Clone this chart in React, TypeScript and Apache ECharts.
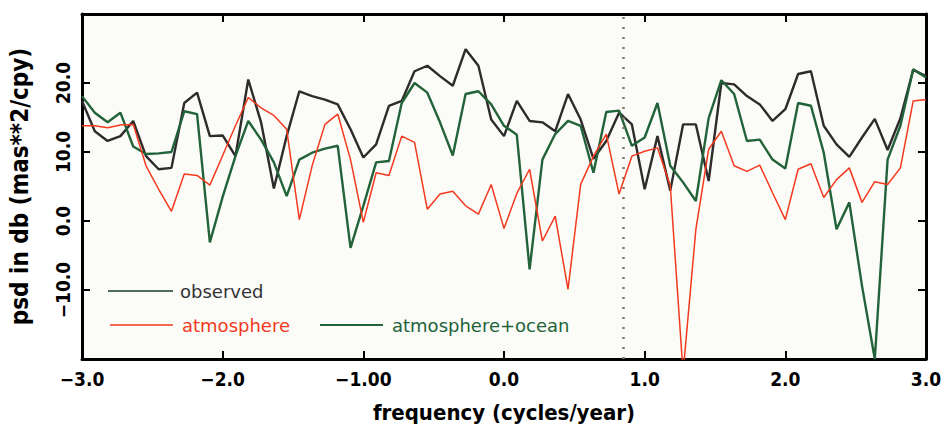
import React, { useEffect, useRef } from "react";
import * as echarts from "echarts";

// frequency grid (cycles/year), step 1/11
const freqs = [
  -3.0, -2.909, -2.818, -2.727, -2.636, -2.545, -2.455, -2.364, -2.273, -2.182, -2.091,
  -2.0, -1.909, -1.818, -1.727, -1.636, -1.545, -1.455, -1.364, -1.273, -1.182, -1.091,
  -1.0, -0.909, -0.818, -0.727, -0.636, -0.545, -0.455, -0.364, -0.273, -0.182, -0.091,
  0.0, 0.091, 0.182, 0.273, 0.364, 0.455, 0.545, 0.636, 0.727, 0.818, 0.909,
  1.0, 1.091, 1.182, 1.273, 1.364, 1.455, 1.545, 1.636, 1.727, 1.818, 1.909,
  2.0, 2.091, 2.182, 2.273, 2.364, 2.455, 2.545, 2.636, 2.727, 2.818, 2.909, 3.0,
];

const observed = [
  17.4, 13.0, 11.6, 12.3, 14.5, 9.4, 7.5, 7.7, 17.1, 18.6, 12.3,
  12.4, 9.4, 20.5, 14.3, 4.7, 12.3, 18.8, 18.1, 17.6, 16.9, 13.3,
  9.2, 11.1, 16.7, 17.4, 21.7, 22.5, 21.0, 19.6, 24.9, 22.5, 14.7,
  12.3, 17.4, 14.5, 14.3, 13.0, 18.4, 14.7, 9.0, 11.6, 15.7, 14.0,
  4.6, 12.3, 4.4, 14.0, 14.0, 5.8, 20.0, 19.8, 18.1, 16.9, 14.5,
  16.2, 21.3, 21.7, 13.8, 11.1, 9.3, 12.1, 14.8, 10.3, 14.9, 21.9, 21.0,
];

const atmosphere = [
  13.8, 13.8, 13.5, 13.9, 14.0, 8.0, 4.6, 1.4, 6.8, 6.6, 5.2,
  9.5, 13.8, 17.9, 16.4, 15.3, 13.3, 0.2, 8.0, 14.0, 15.5, 8.9,
  -0.2, 7.0, 6.6, 12.3, 11.4, 1.7, 3.9, 4.3, 2.2, 1.0, 5.3,
  -1.1, 4.0, 7.5, -2.9, 0.7, -9.9, 5.3, 9.4, 12.6, 3.9, 9.4,
  10.1, 10.6, 5.1, -22.0, -1.2, 10.4, 13.0, 8.0, 7.2, 8.1, 4.1,
  0.2, 7.5, 8.3, 3.4, 6.0, 7.7, 2.7, 5.7, 5.3, 7.7, 17.4, 17.6,
];

const atmosphereOcean = [
  18.1, 15.7, 14.3, 15.7, 10.8, 9.7, 9.8, 10.0, 15.9, 15.5, -3.1,
  3.5, 9.4, 14.5, 11.8, 8.5, 3.6, 8.9, 9.9, 10.5, 10.9, -3.9,
  2.2, 8.5, 8.7, 17.1, 20.0, 18.6, 14.3, 9.5, 18.4, 18.8, 16.9,
  13.8, 12.5, -7.0, 8.9, 12.6, 14.5, 13.8, 7.0, 15.8, 16.0, 10.9,
  12.1, 17.1, 8.0, 5.6, 2.9, 14.9, 20.4, 18.4, 11.6, 11.8, 8.9,
  7.6, 17.1, 16.7, 9.9, -1.2, 2.7, -9.4, -20.0, 8.9, 13.8, 22.0, 20.8,
];

const xTickValues = [-3, -2, -1, 0, 1, 2, 3];
const xTickLabels = ["\u22123.0", "\u22122.0", "\u22121.00", "0.0", "1.0", "2.0", "3.0"];
const yTickValues = [-10, 0, 10, 20];
const yTickLabels = ["\u221210.0", "0.0", "10.0", "20.0"];
const markerFreq = 0.85;

const seriesNames = ["observed", "atmosphere", "atmosphere+ocean"];

const AXIS_FONT = '"Liberation Sans Narrow", "DejaVu Sans Condensed", "Liberation Sans", sans-serif';
const LEGEND_FONT = '"DejaVu Sans", sans-serif';

const pair = (vals: number[]) => freqs.map((f, i) => [f, vals[i]]);

export default function App() {
  const ref = useRef<HTMLDivElement>(null);
  useEffect(() => {
    if (!ref.current) return;
    const chart = echarts.init(ref.current, null, { renderer: "svg" });
    const frameLine = { show: true, onZero: false, lineStyle: { color: "#000", width: 3 } };
    const tick = { show: true, inside: true, length: 8, lineStyle: { color: "#000", width: 2 } };
    const xLabel = (v: number) => {
      const k = xTickValues.indexOf(Math.round(v * 1000) / 1000);
      return k >= 0 ? xTickLabels[k] : "";
    };
    const yLabel = (v: number) => {
      const k = yTickValues.indexOf(Math.round(v * 1000) / 1000);
      return k >= 0 ? yTickLabels[k] : "";
    };
    chart.setOption({
      animation: false,
      backgroundColor: "#ffffff",
      grid: {
        left: 81,
        right: 20,
        top: 14,
        bottom: 68,
        show: true,
        backgroundColor: "#fbfbf8",
        borderWidth: 0,
      },
      xAxis: [
        {
          type: "value",
          min: -3,
          max: 3,
          interval: 1,
          position: "bottom",
          axisLine: frameLine,
          axisTick: tick,
          splitLine: { show: false },
          axisLabel: {
            formatter: xLabel,
            color: "#000",
            fontWeight: "bold",
            fontSize: 19,
            fontFamily: AXIS_FONT,
            margin: 10,
          },
          name: "frequency (cycles/year)",
          nameLocation: "middle",
          nameGap: 42,
          nameTextStyle: { color: "#000", fontWeight: "bold", fontSize: 22, fontFamily: AXIS_FONT },
        },
        {
          type: "value",
          min: -3,
          max: 3,
          interval: 1,
          position: "top",
          axisLine: frameLine,
          axisTick: tick,
          splitLine: { show: false },
          axisLabel: { show: false },
        },
      ],
      yAxis: [
        {
          type: "value",
          min: -20,
          max: 30,
          interval: 10,
          position: "left",
          axisLine: frameLine,
          axisTick: tick,
          splitLine: { show: false },
          axisLabel: {
            formatter: yLabel,
            rotate: 90,
            color: "#000",
            fontWeight: "bold",
            fontSize: 19,
            fontFamily: AXIS_FONT,
            margin: 10,
          },
          name: "psd in db (mas**2/cpy)",
          nameLocation: "middle",
          nameRotate: 90,
          nameGap: 50,
          nameTextStyle: { color: "#000", fontWeight: "bold", fontSize: 24, fontFamily: AXIS_FONT },
        },
        {
          type: "value",
          min: -20,
          max: 30,
          interval: 10,
          position: "right",
          axisLine: frameLine,
          axisTick: tick,
          splitLine: { show: false },
          axisLabel: { show: false },
        },
      ],
      series: [
        {
          name: seriesNames[0],
          type: "line",
          data: pair(observed),
          showSymbol: false,
          symbol: "none",
          lineStyle: { color: "#2e2b2b", width: 2.4 },
          z: 3,
          markLine: {
            silent: true,
            symbol: "none",
            label: { show: false },
            lineStyle: { color: "#8a7268", width: 2.5, type: [2, 8] },
            data: [{ xAxis: markerFreq }],
          },
        },
        {
          name: seriesNames[2],
          type: "line",
          data: pair(atmosphereOcean),
          showSymbol: false,
          symbol: "none",
          lineStyle: { color: "#22633a", width: 2.4 },
          z: 4,
        },
        {
          name: seriesNames[1],
          type: "line",
          data: pair(atmosphere),
          showSymbol: false,
          symbol: "none",
          lineStyle: { color: "#f4391f", width: 1.5 },
          z: 5,
        },
      ],
      graphic: [
        { type: "line", shape: { x1: 108, y1: 291, x2: 173, y2: 291 }, style: { stroke: "#4f6a62", lineWidth: 2 } },
        {
          type: "text",
          x: 180,
          y: 291,
          style: { text: seriesNames[0], fill: "#333", font: `18px ${LEGEND_FONT}`, verticalAlign: "middle" },
        },
        { type: "line", shape: { x1: 110, y1: 325, x2: 173, y2: 325 }, style: { stroke: "#f4391f", lineWidth: 1.5 } },
        {
          type: "text",
          x: 182,
          y: 325,
          style: { text: seriesNames[1], fill: "#f4391f", font: `18px ${LEGEND_FONT}`, verticalAlign: "middle" },
        },
        { type: "line", shape: { x1: 320, y1: 325, x2: 383, y2: 325 }, style: { stroke: "#22633a", lineWidth: 2 } },
        {
          type: "text",
          x: 392,
          y: 325,
          style: { text: seriesNames[2], fill: "#22633a", font: `18px ${LEGEND_FONT}`, verticalAlign: "middle" },
        },
      ],
    });
    return () => chart.dispose();
  }, []);
  return (
    <div
      ref={ref}
      style={{ position: "absolute", left: 0, top: 0, width: 946, height: 428 }}
    />
  );
}
